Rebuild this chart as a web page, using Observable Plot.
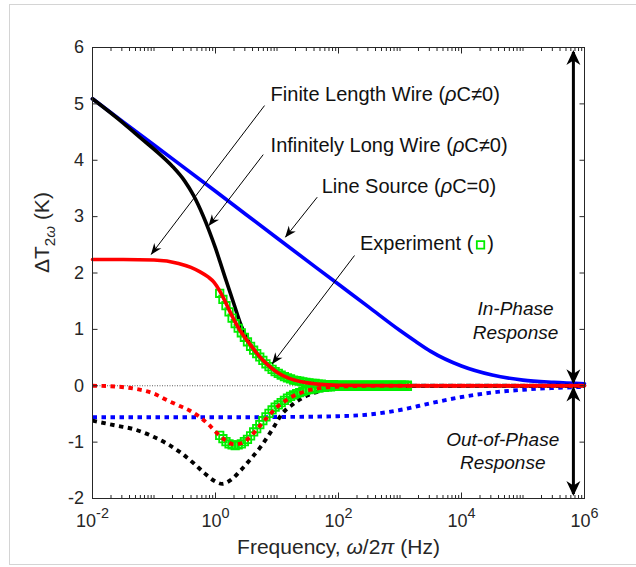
<!DOCTYPE html>
<html>
<head>
<meta charset="utf-8">
<script src="https://cdn.jsdelivr.net/npm/d3@7"></script>
<script src="https://cdn.jsdelivr.net/npm/@observablehq/plot@0.6"></script>
<style>
  html, body { margin: 0; padding: 0; background: #fff; }
  #wrap { position: relative; width: 636px; height: 567px; overflow: hidden; }
  #edge { position: absolute; left: 9px; top: 4px; width: 700px; height: 561px; border: 1px solid #d4d4d4; box-sizing: border-box; }
  #chart { position: absolute; left: 0; top: 0; }
</style>
</head>
<body>
<div id="wrap"><div id="edge"></div><div id="chart"></div></div>
<script>
// ---- Line source (ρC = 0): in-phase and out-of-phase 2ω temperature rise ----
const lineSourceInFreq = [0.01, 0.1, 1, 10, 100, 316, 1000, 1780, 3160, 10000, 31600, 100000, 316000, 1000000];
const lineSourceIn     = [5.09, 4.27, 3.45, 2.62, 1.80, 1.39, 0.98, 0.79, 0.61, 0.35, 0.19, 0.10, 0.06, 0.035];
const lineSourceOutFreq = [0.01, 1, 10, 100, 316, 1000, 3160, 10000, 31600, 100000, 316000, 1000000];
const lineSourceOut     = [-0.56, -0.56, -0.555, -0.54, -0.51, -0.43, -0.31, -0.20, -0.12, -0.07, -0.04, -0.02];

// ---- Infinitely long wire (ρC ≠ 0) ----
const infiniteInFreq = [0.01, 0.0316, 0.0631, 0.126, 0.2, 0.316, 0.437, 0.631, 0.794, 1, 1.175, 1.413, 1.995, 2.51, 3.16, 3.98, 5.01, 7.08, 10, 15.85, 31.6, 63.1, 158, 1000, 1000000];
const infiniteIn     = [5.09, 4.66, 4.38, 4.10, 3.89, 3.63, 3.38, 3.01, 2.74, 2.44, 2.21, 1.94, 1.45, 1.12, 0.86, 0.68, 0.53, 0.37, 0.24, 0.13, 0.06, 0.025, 0.01, 0, 0];
const infiniteOutFreq = [0.01, 0.0251, 0.0468, 0.1, 0.164, 0.282, 0.447, 0.661, 0.933, 1.288, 1.778, 2.57, 3.72, 5.37, 7.08, 8.91, 11.5, 18.6, 31.6, 56.2, 100, 251, 1000, 1000000];
const infiniteOut     = [-0.62, -0.71, -0.77, -0.91, -1.03, -1.20, -1.38, -1.55, -1.68, -1.74, -1.67, -1.50, -1.30, -1.09, -0.90, -0.73, -0.53, -0.32, -0.17, -0.08, -0.035, -0.01, 0, 0];

// ---- Finite length wire (ρC ≠ 0) ----
const finiteInFreq = [0.01, 0.0316, 0.1, 0.251, 0.398, 0.562, 0.759, 0.955, 1.175, 1.413, 1.778, 2.51, 3.55, 5.01, 7.08, 10, 15.85, 25.1, 50.1, 100, 1000, 1000000];
const finiteIn     = [2.24, 2.24, 2.23, 2.17, 2.10, 2.02, 1.93, 1.83, 1.68, 1.51, 1.28, 0.98, 0.75, 0.54, 0.37, 0.24, 0.13, 0.07, 0.025, 0.01, 0, 0];
const finiteOutFreq = [0.01, 0.0251, 0.0468, 0.1, 0.158, 0.251, 0.380, 0.562, 0.759, 0.933, 1.175, 1.514, 1.995, 2.63, 3.55, 5.01, 7.08, 10, 15.85, 25.1, 39.8, 79.4, 200, 1000, 1000000];
const finiteOut     = [0, -0.015, -0.05, -0.14, -0.25, -0.35, -0.44, -0.56, -0.68, -0.78, -0.89, -0.98, -1.04, -1.02, -0.92, -0.74, -0.55, -0.38, -0.22, -0.12, -0.06, -0.02, -0.005, 0, 0];

// ---- Measured 2ω response ----
const expFreq = [1.17, 1.32, 1.48, 1.66, 1.86, 2.09, 2.34, 2.63, 2.95, 3.31, 3.72, 4.17, 4.68, 5.25, 5.89, 6.61, 7.41, 8.32, 9.33,
  10.5, 11.7, 13.2, 14.8, 16.6, 18.6, 20.9, 23.4, 26.3, 29.5, 33.1, 37.2, 41.7, 46.8, 52.5, 58.9, 66.1, 74.1, 83.2, 93.3,
  105, 117, 132, 148, 166, 186, 209, 234, 263, 295, 331, 372, 417, 468, 525, 589, 661, 741, 832, 933, 1050, 1170, 1320];
const expIn = [1.64, 1.53, 1.42, 1.31, 1.20, 1.10, 1.02, 0.94, 0.86, 0.78, 0.70, 0.63, 0.57, 0.51, 0.45, 0.39, 0.34, 0.29, 0.25,
  0.22, 0.19, 0.16, 0.14, 0.12, 0.10, 0.09, 0.08, 0.07, 0.06, 0.05, 0.04, 0.04, 0.03, 0.03, 0.02, 0.02, 0.02, 0.02, 0.01,
  0.01, 0.01, 0.01, 0.01, 0.01, 0.01, 0.01, 0.01, 0.01, 0.01, 0.01, 0.01, 0.01, 0.01, 0.01, 0.01, 0.01, 0.01, 0.01, 0.01, 0.01, 0.01, 0.01];
const expOut = [-0.88, -0.94, -0.99, -1.03, -1.05, -1.06, -1.05, -1.03, -0.99, -0.95, -0.89, -0.82, -0.76, -0.69, -0.62, -0.55, -0.49, -0.43, -0.38,
  -0.34, -0.30, -0.26, -0.22, -0.19, -0.16, -0.14, -0.12, -0.10, -0.08, -0.07, -0.06, -0.05, -0.04, -0.03, -0.03, -0.02, -0.02, -0.01, -0.01,
  -0.01, -0.01, -0.01, -0.01, -0.01, -0.01, -0.01, -0.01, -0.01, -0.01, -0.01, -0.01, -0.01, -0.01, -0.01, -0.01, -0.01, -0.01, -0.01, -0.01, -0.01, -0.01, -0.01];

// ---- Axis ticks ----
const xMajorTicks = [1e-2, 1e0, 1e2, 1e4, 1e6];
const xMajorLabels = ["10^{-2}", "10^{0}", "10^{2}", "10^{4}", "10^{6}"];
const yTicks = [-2, -1, 0, 1, 2, 3, 4, 5, 6];

// ---- Callout labels and their arrows ----
const calloutText = ["Finite Length Wire (ρC≠0)", "Infinitely Long Wire (ρC≠0)", "Line Source (ρC=0)", "Experiment ("];
const calloutTextX = [7.87, 7.87, 53.3, 223];
const calloutTextY = [5.156, 4.26, 3.54, 2.52];
const calloutFromX = [6.27, 5.97, 45.1, 182];
const calloutFromY = [4.97, 4.10, 3.345, 2.31];
const calloutToX = [0.090, 0.778, 13.7, 8.36];
const calloutToY = [2.33, 2.84, 2.635, 0.389];
const legendSquare = {f: 20400, v: 2.50};
const legendClose = {f: 26200, v: 2.52, text: ")"};

// ---- In-phase / out-of-phase double arrows ----
const phaseArrowFreq = 6.6e5;
const phaseArrowTop = [5.92, -0.05];
const phaseArrowBottom = [0.06, -1.92];
const phaseLabels = ["In-Phase\nResponse", "Out-of-Phase\nResponse"];
const phaseLabelX = [75500, 46800];
const phaseLabelY = [1.182, -1.141];
const phaseLabelLead = [1.263, 1.226];

const zip = (f, v) => f.map((x, i) => ({f: x, v: v[i]}));
const minorTicks = [];
for (let k = -2; k < 6; k++) {
  for (let m = 1; m < 10; m++) {
    const t = m * Math.pow(10, k);
    if (!(m === 1 && k % 2 === 0)) minorTicks.push(t);
  }
}

const BLUE = "#0000ff", RED = "#ff0000", BLACK = "#000000", GREEN = "#00ee00", AXIS = "#262626";
// near-black stroke colours that tag the two arrow groups for their arrowheads
const CALLOUT_INK = "#010101", PHASE_INK = "#020202";
const FONT = "'Liberation Sans', Arial, Helvetica, sans-serif";
const solid = {strokeWidth: 3.6};
const dotted = {strokeWidth: 3.9, strokeDasharray: "4.5,4.5", strokeLinecap: "butt"};
const squares = {x: "f", y: "v", symbol: "square", r: 4.2, stroke: GREEN, strokeWidth: 1.8, fill: "none"};

const callouts = calloutText.map((t, i) => ({
  t, tx: calloutTextX[i], ty: calloutTextY[i],
  x1: calloutFromX[i], y1: calloutFromY[i], x2: calloutToX[i], y2: calloutToY[i]
}));
const phaseArrows = phaseArrowTop.map((top, i) => ({x: phaseArrowFreq, y1: phaseArrowBottom[i], y2: top}));
const phaseText = phaseLabels.map((t, i) => ({t, x: phaseLabelX[i], y: phaseLabelY[i]}));

const svg = Plot.plot({
  width: 636,
  height: 567,
  marginLeft: 92,
  marginRight: 52,
  marginTop: 47,
  marginBottom: 69,
  x: {type: "log", domain: [1e-2, 1e6]},
  y: {domain: [-2, 6]},
  style: {fontFamily: FONT, color: AXIS, background: "transparent", overflow: "visible"},
  marks: [
    Plot.ruleY([0], {stroke: "#333", strokeWidth: 0.8, strokeDasharray: "1,1.5"}),
    Plot.line(zip(lineSourceOutFreq, lineSourceOut), {x: "f", y: "v", stroke: BLUE, curve: "monotone-x", ...dotted}),
    Plot.line(zip(lineSourceInFreq, lineSourceIn), {x: "f", y: "v", stroke: BLUE, curve: "monotone-x", ...solid}),
    Plot.line(zip(infiniteInFreq, infiniteIn), {x: "f", y: "v", stroke: BLACK, curve: "monotone-x", ...solid}),
    Plot.line(zip(infiniteOutFreq, infiniteOut), {x: "f", y: "v", stroke: BLACK, curve: "monotone-x", ...dotted}),
    Plot.dot(zip(expFreq, expIn), squares),
    Plot.dot(zip(expFreq, expOut), squares),
    Plot.line(zip(finiteOutFreq, finiteOut), {x: "f", y: "v", stroke: RED, curve: "monotone-x", ...dotted}),
    Plot.line(zip(finiteInFreq, finiteIn), {x: "f", y: "v", stroke: RED, curve: "monotone-x", ...solid}),

    // callout arrows and labels
    Plot.link(callouts, {x1: "x1", y1: "y1", x2: "x2", y2: "y2", stroke: CALLOUT_INK, strokeWidth: 1}),
    Plot.text(callouts, {x: "tx", y: "ty", text: "t", textAnchor: "start", fontSize: 20, fill: "#111"}),
    Plot.dot([legendSquare], squares),
    Plot.text([legendClose], {x: "f", y: "v", text: "text", textAnchor: "start", fontSize: 20, fill: "#111"}),

    // in-phase / out-of-phase indicators
    Plot.link(phaseArrows, {x1: "x", x2: "x", y1: "y1", y2: "y2", stroke: PHASE_INK, strokeWidth: 3}),
    Plot.text(phaseText.slice(0, 1), {x: "x", y: "y", text: "t", fontSize: 19, fontStyle: "italic", lineHeight: phaseLabelLead[0], fill: "#111"}),
    Plot.text(phaseText.slice(1), {x: "x", y: "y", text: "t", fontSize: 19, fontStyle: "italic", lineHeight: phaseLabelLead[1], fill: "#111"}),

    // axes: inward ticks on all four sides
    Plot.axisX({ticks: xMajorTicks, anchor: "bottom", tickSize: -5.5, fill: "none", label: null, stroke: AXIS}),
    Plot.axisX({ticks: xMajorTicks, anchor: "top", tickSize: -5.5, fill: "none", label: null, stroke: AXIS}),
    Plot.axisX({ticks: minorTicks, anchor: "bottom", tickSize: -3, fill: "none", label: null, stroke: AXIS}),
    Plot.axisX({ticks: minorTicks, anchor: "top", tickSize: -3, fill: "none", label: null, stroke: AXIS}),
    Plot.axisY({ticks: yTicks, anchor: "left", tickSize: -5.5, fill: "none", label: null, stroke: AXIS}),
    Plot.axisY({ticks: yTicks, anchor: "right", tickSize: -5.5, fill: "none", label: null, stroke: AXIS}),
    Plot.text(xMajorTicks, {x: d => d, text: (d, i) => xMajorLabels[i], frameAnchor: "bottom", dy: 28.5, fontSize: 18, fill: AXIS}),
    Plot.text(yTicks, {y: d => d, text: d => String(d), frameAnchor: "left", textAnchor: "end", dx: -8.5, fontSize: 18, fill: AXIS}),
    Plot.text(["Frequency, ω/2π (Hz)"], {frameAnchor: "bottom", dy: 55.3, fontSize: 21, fill: AXIS}),
    Plot.text(["ΔT_{2ω} (K)"], {frameAnchor: "left", dx: -50.4, rotate: -90, fontSize: 21, fill: AXIS}),
    Plot.frame({stroke: AXIS, strokeWidth: 1})
  ]
});
document.getElementById("chart").append(svg);

// Superscripts, subscripts and italic Greek letters inside text labels
const SVGNS = "http://www.w3.org/2000/svg";
function richText(node) {
  const s = node.textContent;
  if (node.querySelector("tspan") || !/[\^_]\{|[α-ω]/.test(s)) return;
  const fs = parseFloat(getComputedStyle(node).fontSize) || 18;
  node.textContent = "";
  let shift = 0;
  for (const part of s.split(/([\^_]\{[^}]*\})/)) {
    if (!part) continue;
    const outer = document.createElementNS(SVGNS, "tspan");
    let target = 0, size = null, str = part;
    if (part.startsWith("^{")) { target = -0.5 * fs; size = 0.8 * fs; str = part.slice(2, -1); }
    else if (part.startsWith("_{")) { target = 0.3 * fs; size = 0.72 * fs; str = part.slice(2, -1); }
    const dy = target - shift;
    shift = target;
    if (dy) outer.setAttribute("dy", dy);
    if (size) outer.setAttribute("font-size", size);
    for (const q of str.split(/([α-ω])/)) {
      if (!q) continue;
      const inner = document.createElementNS(SVGNS, "tspan");
      inner.textContent = q;
      if (/^[α-ω]$/.test(q)) inner.setAttribute("font-style", "italic");
      outer.appendChild(inner);
    }
    node.appendChild(outer);
  }
}
d3.select(svg).selectAll("text").each(function() { richText(this); });

// Arrowheads (notched, filled) on the callout and phase arrows
const root = d3.select(svg);
const defs = root.insert("defs", ":first-child");
function head(id, len, half, notch, tip) {
  const w = len + tip + 2, h = 2 * half + 2;
  defs.append("marker")
    .attr("id", id)
    .attr("markerUnits", "userSpaceOnUse")
    .attr("orient", "auto-start-reverse")
    .attr("viewBox", `${-len - 1} ${-half - 1} ${w} ${h}`)
    .attr("markerWidth", w).attr("markerHeight", h)
    .attr("refX", 0).attr("refY", 0)
    .append("path")
    .attr("d", `M${tip},0L${-len},${-half}L${-notch},0L${-len},${half}Z`)
    .attr("fill", BLACK);
}
head("callout-head", 11, 4.5, 7.5, 0.5);
head("phase-head", 13, 7, 8.5, 2);
root.selectAll("g").filter(function() { return this.getAttribute("stroke") === CALLOUT_INK; })
  .selectAll("path").attr("marker-end", "url(#callout-head)");
root.selectAll("g").filter(function() { return this.getAttribute("stroke") === PHASE_INK; })
  .selectAll("path").attr("marker-start", "url(#phase-head)").attr("marker-end", "url(#phase-head)");
</script>
</body>
</html>
